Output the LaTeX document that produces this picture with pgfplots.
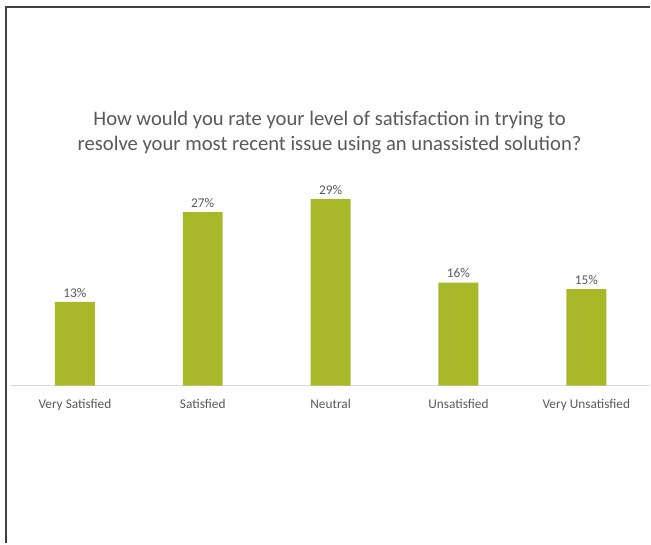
\documentclass[border=0pt]{standalone}
\usepackage{pgfplots}
\pgfplotsset{compat=1.18}
\usepackage{fontspec}
\setmainfont{Carlito}
\definecolor{bargreen}{RGB}{167,185,41}
\definecolor{txt}{RGB}{89,89,89}
\definecolor{framec}{RGB}{64,64,64}
\begin{document}
\begin{tikzpicture}
\path (0pt,0pt) rectangle (488.25pt,408pt);
\draw[framec, line width=1.2pt] (4.5pt,0pt) -- (4.5pt,402.75pt) -- (488.25pt,402.75pt);
\node[txt, align=center, font=\fontsize{15.5}{18.75}\selectfont] at (247.5pt,308.1pt) {How would you rate your level of satisfaction in trying to\\resolve your most recent issue using an unassisted solution?};
\begin{axis}[
  at={(8.25pt,118.5pt)}, anchor=south west,
  scale only axis, width=480pt, height=144.75pt,
  xmin=-0.5, xmax=4.5, ymin=0, ymax=30,
  axis x line=bottom, axis y line=none,
  x axis line style={-, draw=black!15, line width=0.8pt},
  xtick=data, major tick length=0pt,
  xticklabels={Very Satisfied,Satisfied,Neutral,Unsatisfied,Very Unsatisfied},
  xticklabel style={font=\fontsize{10}{12}\selectfont, text=txt, anchor=north, yshift=-7pt},
  /pgf/number format/assume math mode=true,
  ybar, bar width=30pt,
  nodes near coords={\pgfmathprintnumber{\pgfplotspointmeta}\%},
  nodes near coords style={font=\fontsize{10}{12}\selectfont, text=txt, anchor=south, yshift=0pt},
  clip=false,
]
\addplot[fill=bargreen, draw=none] coordinates {(0,13) (1,27) (2,29) (3,16) (4,15)};
\end{axis}
\end{tikzpicture}
\end{document}
